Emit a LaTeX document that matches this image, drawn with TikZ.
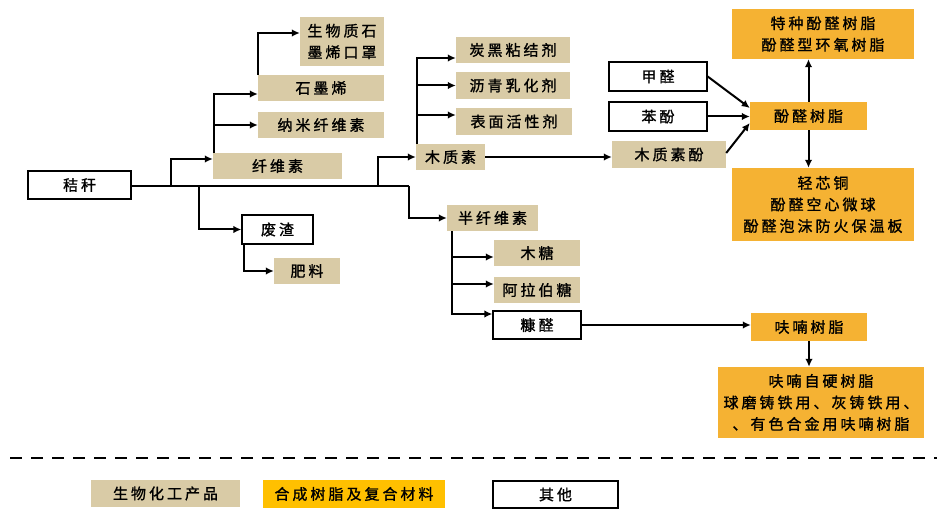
\documentclass[tikz,border=0pt]{standalone}
\usepackage{fontspec}
\newfontfamily\cjk[LetterSpace=20,FakeBold=1.2]{Noto Sans CJK SC}
\usetikzlibrary{arrows.meta}
\definecolor{tanc}{HTML}{D9CBA6}
\definecolor{orc}{HTML}{F5B233}
\definecolor{orl}{HTML}{FFC000}
\begin{document}
\begin{tikzpicture}[x=1pt,y=-1pt,
  base/.style={inner sep=0pt, align=center, font=\cjk\fontsize{15}{21.5}\selectfont},
  tanbox/.style={base, fill=tanc},
  orbox/.style={base, fill=orc},
  whbox/.style={base, draw=black, line width=1.3pt, fill=white},
  sz/.style 2 args={minimum width=#1pt, minimum height=#2pt},
  arr/.style={line width=2pt, -{Latex[length=8pt,width=7.5pt]}},
  ln/.style={line width=2pt}]
\useasboundingbox (0,0) rectangle (943,510);

% nodes
\node[whbox, sz={103}{28}] (jg) at (79.5,185) {秸秆};
\node[tanbox, sz={129}{26}] (xws) at (277.5,166) {纤维素};
\node[tanbox, sz={126}{26}] (nm) at (321,125) {纳米纤维素};
\node[tanbox, sz={126}{26}] (smx) at (321,88) {石墨烯};
\node[tanbox, sz={84}{49}] (kz) at (342,41.5) {生物质石\\墨烯口罩};
\node[whbox, sz={71}{29}] (fz) at (277.5,229.5) {废渣};
\node[tanbox, sz={66}{26}] (fl) at (307,271) {肥料};
\node[tanbox, sz={69}{26}] (mzs) at (450.5,157) {木质素};
\node[tanbox, sz={114}{26}] (thj) at (513,50) {炭黑粘结剂};
\node[tanbox, sz={114}{27}] (lq) at (513,85.5) {沥青乳化剂};
\node[tanbox, sz={116}{27}] (bm) at (514,121.5) {表面活性剂};
\node[tanbox, sz={91}{26}] (bxws) at (492.5,218) {半纤维素};
\node[tanbox, sz={86}{26}] (mt) at (537,253) {木糖};
\node[tanbox, sz={86}{26}] (alb) at (537,290) {阿拉伯糖};
\node[whbox, sz={88}{28}] (kq) at (537,325) {糠醛};
\node[whbox, sz={98}{29}] (jq) at (658,76.5) {甲醛};
\node[whbox, sz={98}{29}] (bf) at (658,116.5) {苯酚};
\node[tanbox, sz={114}{27}] (mzsf) at (669,154.5) {木质素酚};
\node[orbox, sz={117}{28}] (fqsz) at (808.5,116) {酚醛树脂};
\node[orbox, sz={182}{50}] (tz) at (823,34) {特种酚醛树脂\\酚醛型环氧树脂};
\node[orbox, sz={182}{73}] (qxt) at (823,204.5) {轻芯铜\\酚醛空心微球\\酚醛泡沫防火保温板};
\node[orbox, sz={116}{28}] (fnsz) at (809,327) {呋喃树脂};
\node[orbox, sz={206}{71}] (fnzy) at (821,402.5) {呋喃自硬树脂\\球磨铸铁用、灰铸铁用、\\、有色合金用呋喃树脂};

% legend
\node[tanbox, sz={149}{27}] (l1) at (165.5,493.5) {生物化工产品};
\node[base, fill=orl, sz={182}{28}] (l2) at (354,494) {合成树脂及复合材料};
\node[whbox, sz={125}{27}] (l3) at (555.5,494.5) {其他};

% main trunk
\coordinate (m1) at (171,186);
\coordinate (m2) at (199,186);
\coordinate (m3) at (378,186);
\coordinate (m4) at (409,186);
\draw[ln] (jg.east |- m1) -- (m4);
\draw[arr] (m4) |- (bxws.west);
\draw[arr] (m1) |- ([yshift=7pt]xws.west);
\draw[arr] (m2) |- (fz.west);
\draw[arr] (m3) |- (mzs.west);

% cellulose
\coordinate (v1) at ([xshift=1.5pt]xws.north west);
\draw[arr] (v1) |- ([yshift=-6pt]smx.west);
\draw[arr] (v1 |- nm.west) -- (nm.west);
\coordinate (v1b) at ([xshift=0.5pt]smx.north west);
\draw[arr] (v1b) |- ([yshift=8.5pt]kz.west);

% residue
\coordinate (v4) at ([xshift=3pt]fz.south west);
\draw[arr] (v4) |- (fl.west);

% lignin
\coordinate (v2) at ([xshift=1.5pt]mzs.north west);
\draw[arr] (v2) |- ([yshift=-8pt]thj.west);
\draw[arr] (v2 |- lq.west) -- (lq.west);
\draw[arr] (v2 |- 0,115) -- (bm.west |- 0,115);
\draw[arr] (mzs.east) -- (mzs.east -| mzsf.west);

% hemicellulose
\coordinate (v3) at ([xshift=5pt]bxws.south west);
\draw[arr] (v3) |- ([yshift=-4pt]mt.west);
\draw[arr] (v3) |- ([yshift=6pt]alb.west);
\draw[arr] (v3) |- ([yshift=11pt]kq.west);
\draw[arr] (kq.east) -- (kq.east -| fnsz.west);
\draw[arr] (fnsz.south) -- (fnsz.south |- fnzy.north);

% phenolic
\draw[arr] (jq.east) -- ([yshift=8pt]fqsz.west);
\draw[arr] (bf.east) -- (bf.east -| fqsz.west);
\draw[arr] ([yshift=1.5pt]mzsf.east) -- ([yshift=-7pt]fqsz.west);
\draw[arr] (fqsz.north) -- (fqsz.north |- tz.south);
\draw[arr] (fqsz.south) -- (fqsz.south |- qxt.north);

% separator
\coordinate (dl) at (10,458);
\coordinate (dr) at (937,458);
\draw[line width=2pt, dash pattern=on 12pt off 9pt] (dl) -- (dr);
\end{tikzpicture}
\end{document}
